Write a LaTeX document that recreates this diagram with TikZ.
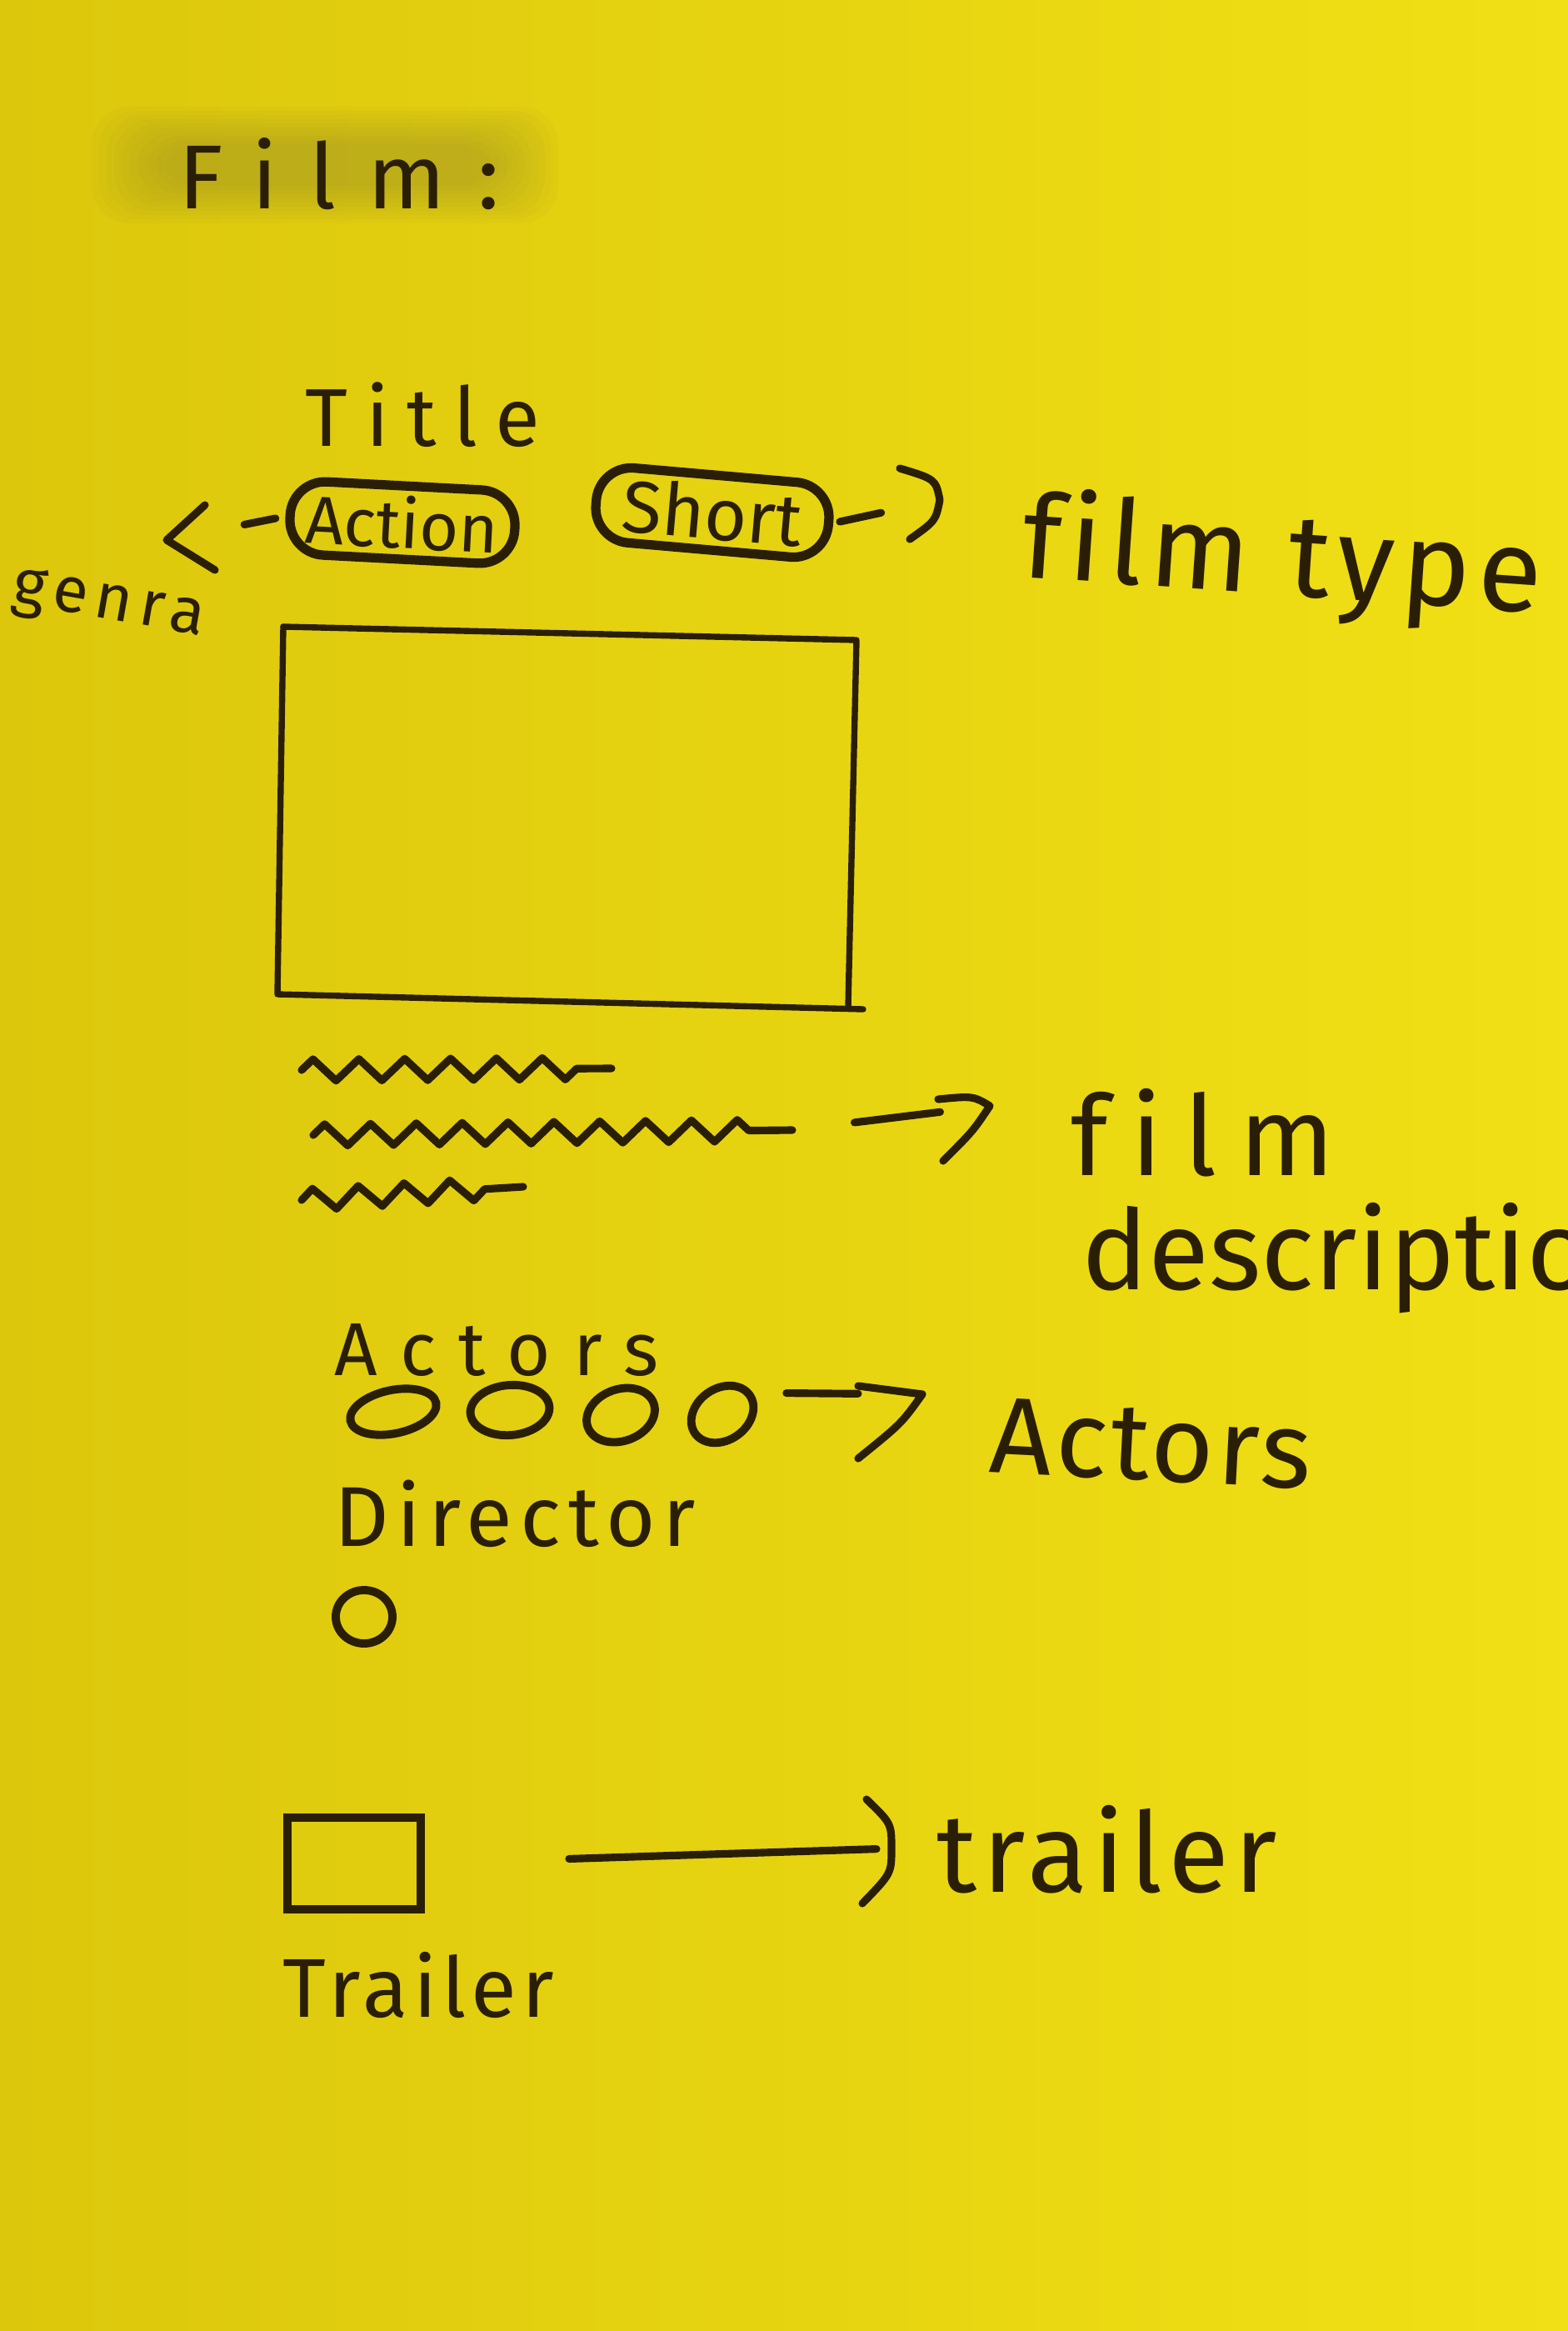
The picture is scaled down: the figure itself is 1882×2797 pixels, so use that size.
\documentclass[tikz,border=0pt]{standalone}
\usepackage{fontspec}
\usepackage{graphicx}
\setmainfont{Fira Sans}[Ligatures=NoCommon]
\usetikzlibrary{decorations.pathmorphing,shapes.geometric}
\definecolor{paperL}{HTML}{DCC70C}
\definecolor{paperR}{HTML}{F1E015}
\definecolor{ink}{HTML}{2A1F06}
\definecolor{smudge}{HTML}{8A8236}
\tikzset{
  pen/.style={draw=ink, line width=2.6pt, line cap=round, line join=round},
  thinpen/.style={draw=ink, line width=2.1pt, line cap=round, line join=round},
  txt/.style={text=ink, inner sep=0pt, anchor=base west},
  pill/.style={draw=ink, line width=3.2pt, rounded corners=0.42cm, inner sep=0pt, text=ink},
  oval/.style={draw=ink, line width=2.8pt, ellipse, inner sep=0pt},
  wave/.style={pen, decorate, decoration={zigzag, segment length=0.55cm, amplitude=0.13cm, post length=0.4cm}}
}
\newcommand{\fs}[2]{\fontsize{#1}{#1}\selectfont\addfontfeature{LetterSpace=#2}}
\begin{document}
\begin{tikzpicture}[x=0.01cm,y=-0.01cm]
\useasboundingbox (0,0) rectangle (1882,2797);
\shade[left color=paperL, right color=paperR] (0,0) rectangle (1882,2797);
% pencil smudge behind the heading
\foreach \i in {0,...,9} {
  \fill[smudge, opacity=0.045, rounded corners=0.45cm]
    (110+\i*9,128+\i*5) rectangle (670-\i*8,268-\i*5);
}

% texts
\node[txt, font=\fs{31}{35}] (film) at (214,250) {Film:};
\node[txt, font=\fs{28}{22}] (title) at (366,535) {Title};
\node[txt, font=\fs{22}{12}, rotate=-10] (genra) at (12,722) {genra};
\node[txt, font=\fs{40}{6}, rotate=-4] (ftype) at (1224,692) {film type};
\node[txt, font=\fs{38}{20}] (fdesc1) at (1285,1410) {film};
\node[txt, font=\fs{38}{0}] (fdesc2) at (1298,1547) {description};
\node[txt, font=\fs{25.6}{30}] (actlbl) at (401,1650) {Actors};
\node[txt, font=\fs{37}{3}, rotate=-3] (actors) at (1186,1766) {Actors};
\node[txt, font=\fs{29}{9}] (dirlbl) at (401,1855) {Director};
\node[txt, font=\fs{38}{5}] (trailer) at (1124,2270) {trailer};
\node[txt, font=\fs{28.5}{6}] (trllbl) at (339,2420) {Trailer};

% genre / type pills
\node[pill, minimum width=2.7cm, minimum height=0.88cm, rotate=-3, font=\fs{23}{0}] (action) at (483,627) {Action};
\node[pill, minimum width=2.8cm, minimum height=0.9cm, rotate=-5, font=\fs{25}{0}] (short) at (855,615) {Short};

% genre arrow
\coordinate (gtip) at (200,648);
\draw[pen, shorten <=0.12cm, shorten >=0.95cm] (action.west) -- (gtip);
\draw[pen] ([shift={(46,-42)}]gtip) -- (gtip) -- ([shift={(58,36)}]gtip);

% film type arrow
\coordinate (ftip) at (1128,600);
\draw[pen, shorten <=0.08cm, shorten >=0.72cm] (short.east) -- (ftip);
\draw[pen] ([shift={(-48,-38)}]ftip) .. controls ([shift={(-5,-25)}]ftip) .. (ftip)
  .. controls ([shift={(-5,25)}]ftip) .. ([shift={(-36,47)}]ftip);

% image placeholder
\coordinate (r1) at (340,752);
\coordinate (r2) at (1028,768);
\coordinate (r3) at (1018,1208);
\coordinate (r4) at (333,1193);
\draw[thinpen] (r1) -- (r2) -- (r3);
\draw[thinpen] (r1) -- (r4) -- (1036,1211);

% description lines
\coordinate (w1s) at (362,1284); \coordinate (w1e) at (734,1282);
\coordinate (w2s) at (376,1362); \coordinate (w2e) at (951,1356);
\coordinate (w3s) at (362,1440); \coordinate (w3e) at (628,1424);
\draw[wave] (w1s) -- (w1e);
\draw[wave] (w2s) -- (w2e);
\draw[wave] (w3s) -- (w3e);
\coordinate (dtip) at (1188,1327);
\draw[pen, shorten <=0.75cm, shorten >=0.6cm] (w2e) -- (dtip);
\draw[pen] ([shift={(-62,-8)}]dtip) .. controls ([shift={(-20,-12)}]dtip) .. (dtip)
  .. controls ([shift={(-20,30)}]dtip) .. ([shift={(-56,66)}]dtip);

% actors
\node[oval, minimum width=1.05cm, minimum height=0.52cm, rotate=12] (o1) at (472,1694) {};
\node[oval, minimum width=0.95cm, minimum height=0.6cm, rotate=5] (o2) at (612,1692) {};
\node[oval, minimum width=0.84cm, minimum height=0.62cm, rotate=20] (o3) at (745,1698) {};
\node[oval, minimum width=0.8cm, minimum height=0.62cm, rotate=35] (o4) at (867,1697) {};
\coordinate (atip) at (1107,1673);
\draw[pen, shorten <=0.4cm, shorten >=0.77cm] (o4.east) -- (atip);
\draw[pen] ([shift={(-77,-10)}]atip) -- (atip) .. controls ([shift={(-25,35)}]atip) .. ([shift={(-77,77)}]atip);

% director
\node[oval, minimum width=0.68cm, minimum height=0.64cm] (dcirc) at (437,1940) {};

% trailer
\node[draw=ink, line width=2.8pt, minimum width=1.6cm, minimum height=1.1cm, inner sep=0pt] (tbox) at (425,2236) {};
\coordinate (ttip) at (1070,2218);
\draw[pen, shorten <=1.73cm, shorten >=0.18cm] (tbox.east) -- (ttip);
\draw[pen] ([shift={(-30,-59)}]ttip) .. controls ([shift={(0,-30)}]ttip) .. (ttip)
  .. controls ([shift={(0,30)}]ttip) .. ([shift={(-35,66)}]ttip);
\end{tikzpicture}
\end{document}
